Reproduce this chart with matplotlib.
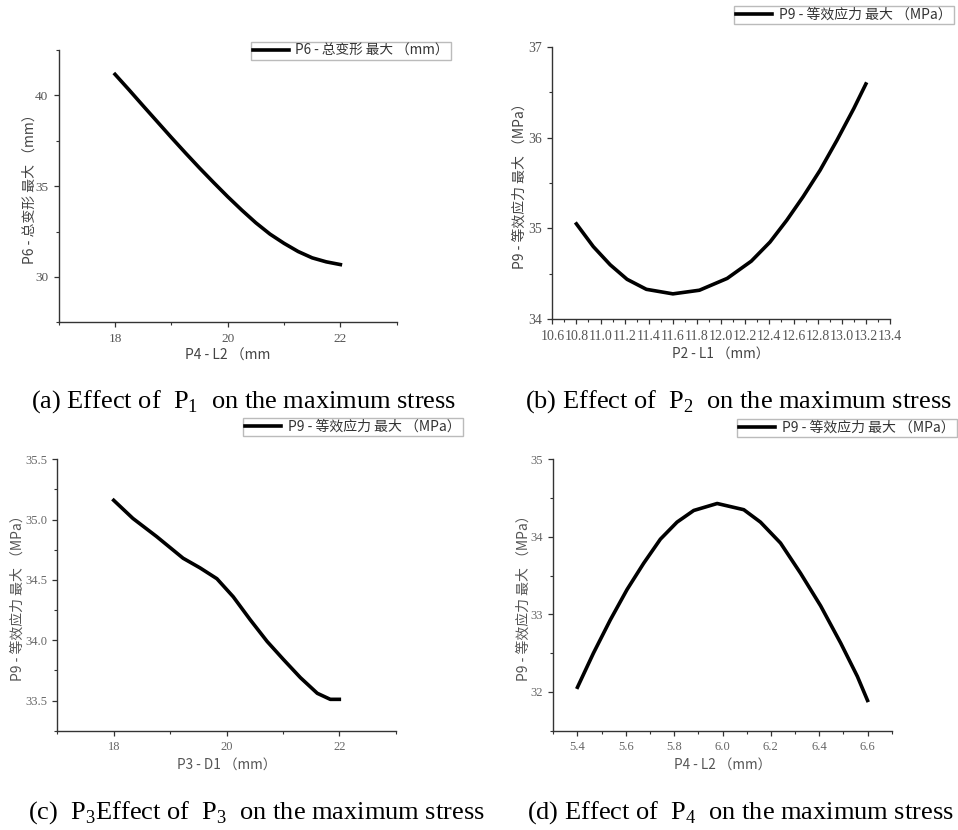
import matplotlib
matplotlib.use("Agg")
import matplotlib.pyplot as plt
from matplotlib.ticker import MultipleLocator

plt.rcParams['font.family'] = ['Noto Sans CJK SC', 'DejaVu Sans']
plt.rcParams['mathtext.fontset'] = 'custom'
plt.rcParams['mathtext.rm'] = 'Liberation Serif'
plt.rcParams['axes.unicode_minus'] = False

# (a) P4 - L2 vs total deformation
xa = [18.0, 18.25, 18.5, 18.75, 19.0, 19.25, 19.5, 19.75, 20.0, 20.25, 20.5,
      20.75, 21.0, 21.25, 21.5, 21.75, 22.0]
ya = [41.16, 40.3, 39.42, 38.55, 37.68, 36.83, 36.0, 35.2, 34.42, 33.68, 32.98,
      32.36, 31.85, 31.4, 31.05, 30.83, 30.68]

# (b) P2 - L1 vs equivalent stress
xb = [10.8, 10.94, 11.08, 11.22, 11.38, 11.6, 11.82, 12.05, 12.25, 12.405, 12.544,
      12.68, 12.82, 12.96, 13.1, 13.2]
yb = [35.05, 34.8, 34.6, 34.44, 34.33, 34.28, 34.32, 34.45, 34.64, 34.85, 35.09,
      35.35, 35.64, 35.97, 36.32, 36.59]

# (c) P3 - D1 vs equivalent stress
xc = [18.0, 18.34, 18.76, 19.23, 19.53, 19.83, 20.12, 20.42, 20.72, 21.01, 21.31,
      21.61, 21.84, 22.0]
yc = [35.16, 35.01, 34.86, 34.68, 34.6, 34.51, 34.36, 34.17, 33.99, 33.84, 33.69,
      33.56, 33.51, 33.51]

# (d) P4 - L2 vs equivalent stress
xd = [5.4, 5.466, 5.536, 5.605, 5.674, 5.743, 5.812, 5.881, 5.978, 6.088, 6.157,
      6.24, 6.323, 6.406, 6.489, 6.558, 6.6]
yd = [32.06, 32.5, 32.93, 33.32, 33.66, 33.97, 34.19, 34.34, 34.43, 34.35, 34.19,
      33.92, 33.53, 33.11, 32.63, 32.2, 31.89]

W, H = 958, 830
fig = plt.figure(figsize=(W / 100, H / 100), dpi=100)


def box(l, t, r, b):
    return [l / W, 1 - b / H, (r - l) / W, (b - t) / H]


def style(ax, tick_size, tick_color):
    for s in ['top', 'right']:
        ax.spines[s].set_visible(False)
    for s in ['left', 'bottom']:
        ax.spines[s].set_color('#333333')
        ax.spines[s].set_linewidth(1.0)
    ax.tick_params(which='major', direction='out', length=3.5, width=0.9,
                   color='#333333', labelsize=tick_size, labelcolor=tick_color, pad=4)
    ax.tick_params(which='minor', direction='out', length=2, width=0.8, color='#333333')


def serif_ticks(ax, xfmt=None, yfmt=None):
    if xfmt:
        ax.set_xticklabels([xfmt % v for v in ax.get_xticks()])
    if yfmt:
        ax.set_yticklabels([yfmt % v for v in ax.get_yticks()])
    for lab in ax.get_xticklabels() + ax.get_yticklabels():
        lab.set_family('Liberation Serif')


def legend(ax, label, right, top, size):
    ax.legend([label], loc='upper right', bbox_to_anchor=(right / W, 1 - top / H),
              bbox_transform=fig.transFigure, frameon=True, fancybox=False,
              edgecolor='#aaaaaa', fontsize=size, handlelength=2.6,
              borderpad=0.15, borderaxespad=0, handletextpad=0.5,
              labelcolor='#333333')


lab_a = 'P6 - 总变形 最大 （mm）'
lab_s = 'P9 - 等效应力 最大 （MPa）'

# panel a
ax = fig.add_axes(box(58.7, 50, 396.7, 322.3))
ax.plot(xa, ya, color='black', lw=2.6, solid_joinstyle='round')
ax.set_xlim(17, 23)
ax.set_ylim(27.5, 42.5)
ax.set_xticks([18, 20, 22])
ax.xaxis.set_minor_locator(MultipleLocator(1))
ax.yaxis.set_major_locator(MultipleLocator(5))
ax.yaxis.set_minor_locator(MultipleLocator(2.5))
style(ax, 9.5, '#555555')
serif_ticks(ax)
ax.set_xlabel('P4 - L2 （mm', fontsize=10, color='#444444', labelpad=3)
ax.set_ylabel(lab_a, fontsize=10, color='#444444', labelpad=-1)
legend(ax, lab_a, 451, 41.7, 9.8)

# panel b
ax = fig.add_axes(box(552.3, 46.7, 890, 319.3))
ax.plot(xb, yb, color='black', lw=2.6, solid_joinstyle='round')
ax.set_xlim(10.6, 13.4)
ax.set_ylim(34, 37)
ax.xaxis.set_major_locator(MultipleLocator(0.2))
ax.xaxis.set_minor_locator(MultipleLocator(0.1))
ax.yaxis.set_major_locator(MultipleLocator(1))
ax.yaxis.set_minor_locator(MultipleLocator(0.5))
style(ax, 10, '#555555')
serif_ticks(ax, xfmt='%.1f')
ax.set_xlabel('P2 - L1 （mm）', fontsize=9.8, color='#444444', labelpad=3)
ax.set_ylabel(lab_s, fontsize=10, color='#444444', labelpad=1)
legend(ax, lab_s, 954, 5.7, 10)

# panel c
ax = fig.add_axes(box(57.3, 459.3, 395.7, 730.7))
ax.plot(xc, yc, color='black', lw=2.6, solid_joinstyle='round')
ax.set_xlim(17, 23)
ax.set_ylim(33.25, 35.5)
ax.set_xticks([18, 20, 22])
ax.xaxis.set_minor_locator(MultipleLocator(1))
ax.yaxis.set_major_locator(MultipleLocator(0.5))
ax.yaxis.set_minor_locator(MultipleLocator(0.25))
style(ax, 9, '#666666')
serif_ticks(ax, yfmt='%.1f')
ax.set_xlabel('P3 - D1 （mm）', fontsize=9.8, color='#555555', labelpad=3)
ax.set_ylabel(lab_s, fontsize=10, color='#555555', labelpad=0.5)
legend(ax, lab_s, 463, 418, 10)

# panel d
ax = fig.add_axes(box(553.3, 459.3, 891.7, 730.7))
ax.plot(xd, yd, color='black', lw=2.6, solid_joinstyle='round')
ax.set_xlim(5.3, 6.7)
ax.set_ylim(31.5, 35)
ax.set_xticks([5.4, 5.6, 5.8, 6.0, 6.2, 6.4, 6.6])
ax.xaxis.set_minor_locator(MultipleLocator(0.1))
ax.yaxis.set_major_locator(MultipleLocator(1))
ax.yaxis.set_minor_locator(MultipleLocator(0.5))
style(ax, 9, '#666666')
serif_ticks(ax, xfmt='%.1f')
ax.set_xlabel('P4 - L2 （mm）', fontsize=9.8, color='#555555', labelpad=3)
ax.set_ylabel(lab_s, fontsize=10, color='#555555', labelpad=0)
legend(ax, lab_s, 957, 419, 10)

# captions
cap = dict(fontsize=19, family='Liberation Serif', ha='center', va='center', color='black')
fig.text(244 / W, 1 - 402 / H, r'(a) Effect of  P$_1$  on the maximum stress', **cap)
fig.text(738 / W, 1 - 402 / H, r'(b) Effect of  P$_2$  on the maximum stress', **cap)
fig.text(256 / W, 1 - 813 / H, r'(c)  P$_3$Effect of  P$_3$  on the maximum stress', **cap)
fig.text(740 / W, 1 - 813 / H, r'(d) Effect of  P$_4$  on the maximum stress', **cap)

fig.savefig('out.png', dpi=100)
